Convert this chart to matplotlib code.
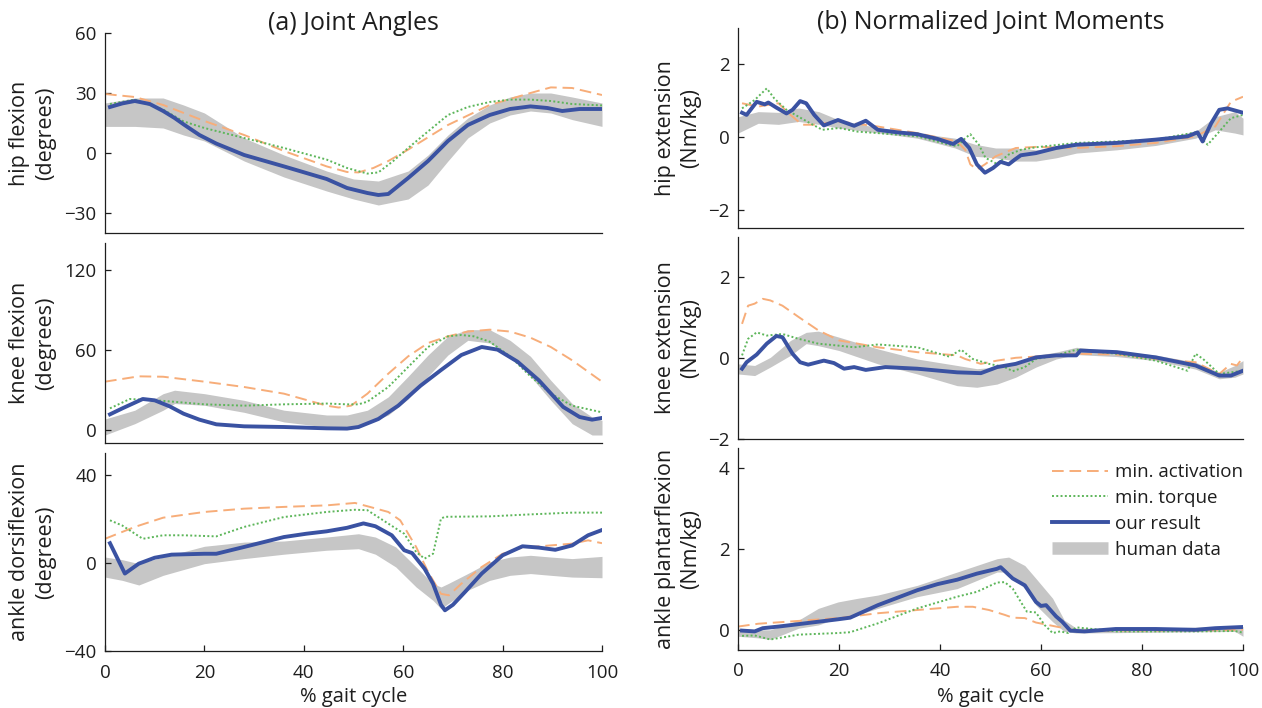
import matplotlib
matplotlib.use("Agg")
import matplotlib.pyplot as plt
from matplotlib.lines import Line2D

plt.rcParams['font.family'] = ['Open Sans', 'DejaVu Sans']

# ---------------- data ----------------
# (a) hip flexion angle (degrees)
ha_band_x = [0, 6, 11.7, 15.8, 20, 28, 36, 44.6, 50, 55, 61, 65, 69, 73, 77.4, 81.5, 85.6, 89.7, 94, 100]
ha_band_hi = [25, 27.5, 27.5, 24, 20, 7.5, -1, -9, -13, -14, -9, -1, 9, 17.5, 24, 28, 30, 30, 28, 25]
ha_band_lo = [13.3, 13.3, 12.5, 9, 6, -4, -12, -19, -23, -26, -23, -16, -4, 7.5, 15, 19, 21, 20, 16.7, 13.3]
ha_blue_x = [1, 3.5, 6, 9, 11.7, 14, 16, 19, 22.4, 28, 36, 44.6, 48.7, 52.8, 55, 57, 58.5, 61, 65, 69, 73, 77.4, 81.5, 85.6, 89, 92, 95.5, 100]
ha_blue = [23, 24.8, 26, 24.5, 21, 17.5, 14, 9, 4.7, -1, -6.7, -13, -17.5, -20, -21, -20.5, -17.5, -12.5, -4, 6, 14, 19, 22, 23.3, 22.5, 21, 22, 22]
ha_orange_x = [0, 6, 11.7, 20, 28, 36, 44.6, 48.7, 51, 54, 57, 61, 69, 77.4, 85.6, 89.7, 94, 100]
ha_orange = [29.5, 28, 24, 16, 9, 1, -6.7, -9.5, -9.7, -7.5, -4, 1.7, 14, 24, 30, 32.8, 32.5, 29]
ha_green_x = [1, 6, 11.7, 15.8, 20, 28, 36, 44.6, 48.7, 52.8, 55, 58, 61, 65, 69, 73, 77.4, 81.5, 85.6, 89.7, 94, 100]
ha_green = [24.5, 26.7, 21.7, 15.8, 12.5, 7.5, 2.5, -3.3, -7.5, -10.3, -9.7, -4, 2.5, 10.8, 19, 23, 25.5, 26.7, 26.7, 26, 24.5, 23.8]

# (a) knee flexion angle (degrees)
ka_band_x = [0, 6, 11.7, 14, 20, 28, 36, 44.6, 48.7, 52.8, 57, 61, 65, 69, 73, 77.4, 81.5, 85.6, 89.7, 94, 98, 100]
ka_band_hi = [8, 14.6, 27, 29.6, 27, 22, 14.6, 11, 11, 14.6, 24.6, 40, 56, 70, 75, 75, 67, 55, 37, 19.6, 9.5, 7]
ka_band_lo = [-4, 4.5, 14.6, 19.6, 18.3, 13, 5.8, 2, 2, 4.5, 11, 23, 40, 56, 67, 65, 56, 40, 22, 4.5, -4, -4]
ka_blue_x = [1, 3.5, 7.6, 10, 13, 15.8, 19, 22.4, 28, 36, 44.6, 48.7, 51, 55, 59, 63.5, 67.6, 71.7, 75.8, 79, 83, 87.3, 92.2, 95.5, 98, 100]
ka_blue = [11.5, 16, 23, 22, 17.5, 12, 7.5, 4, 2.5, 2, 1, 0.8, 2, 8, 18, 33, 44.7, 56, 62, 60, 51, 37, 17, 9.5, 7.5, 8.8]
ka_orange_x = [0, 6.8, 11.7, 20, 28, 36, 44.6, 47, 49.5, 52.8, 57, 61, 65, 69, 73, 77.4, 81.5, 85.6, 89.7, 94, 100]
ka_orange = [36, 40, 39.7, 36, 32, 27, 18, 16.6, 18, 27, 42, 55, 65, 70, 73.6, 75, 73.6, 69, 62, 52, 36]
ka_green_x = [1, 5, 11.7, 20, 28, 36, 44.6, 48.7, 51, 52.8, 57, 61, 65, 69, 71.7, 74.2, 77.4, 81.5, 85.6, 89.7, 94, 100]
ka_green = [16, 23, 21.6, 19, 18, 19, 19.6, 19, 19, 21, 32, 47, 62, 70, 71, 70, 66, 55, 40, 27, 18, 13]

# (a) ankle dorsiflexion angle (degrees)
aa_band_x = [0, 3.5, 6.8, 11.7, 20, 28, 36, 44.6, 51, 54.4, 58.5, 62.6, 66, 67.6, 69, 73, 77.4, 81.5, 85.6, 89.7, 94, 100]
aa_band_hi = [2.7, 1.5, -0.3, 2.7, 7.6, 9.5, 10, 11.8, 13.3, 11.8, 7.3, -1.8, -9.4, -10.9, -9.4, -4.8, 0.5, 2.7, 3.5, 2.7, 2, 3]
aa_band_lo = [-6.4, -7.9, -10, -5.6, -0.3, 2, 4, 5.8, 6.5, 4, -1.8, -10.9, -17, -20.8, -18.5, -12.4, -7.9, -5.6, -4.8, -5.6, -6.4, -6.7]
aa_blue_x = [1, 4, 6.8, 10, 13.4, 20, 22.4, 28, 36, 40.5, 44.6, 48.7, 52, 54.4, 57.7, 60.2, 61.8, 64.3, 66, 67.6, 68.4, 70, 72.5, 75.8, 80, 84, 87.3, 90.6, 94, 97.2, 100]
aa_blue = [9, -4.8, -0.3, 2.4, 3.8, 4.2, 4.2, 7.3, 11.8, 13.3, 14.4, 16, 18, 16.7, 12.6, 5.8, 4.5, -2.6, -9.4, -19, -21.5, -19, -13, -4.8, 3.5, 7.6, 7, 6, 8, 12.6, 15]
aa_orange_x = [0, 6, 11.7, 20, 28, 36, 44.6, 50.3, 52.8, 57, 59.4, 62.6, 65, 67.6, 69.2, 71.7, 75.8, 80, 84, 89.7, 94, 97.2, 100]
aa_orange = [11, 16.4, 20.6, 23.2, 24.7, 25.5, 26.2, 27.3, 25.8, 23.2, 19.4, 7.3, -4, -14, -14.7, -9.4, -1.8, 4.2, 7, 8, 8.8, 10.3, 9]
aa_green_x = [1, 3.5, 7.6, 11.7, 15.8, 22.4, 28, 36, 44.6, 50.3, 52.8, 57, 60.2, 62.6, 64.3, 66, 67.6, 68.4, 77.4, 85.6, 94, 100]
aa_green = [19.4, 17, 11, 12.6, 12.6, 12.1, 16.4, 20.9, 23.2, 24.2, 24, 17.9, 13.3, 5, 2, 4.2, 20.2, 21, 21.2, 22.1, 22.9, 22.9]

# (b) hip extension moment (Nm/kg)
hm_band_x = [0, 4, 8, 12, 16, 20, 28, 35.5, 43, 47, 51, 55, 59, 63, 67, 75, 82.7, 90.6, 94.5, 98.4, 100]
hm_band_hi = [0.56, 0.7, 0.68, 0.8, 0.7, 0.47, 0.25, 0.11, -0.03, -0.2, -0.3, -0.3, -0.35, -0.3, -0.21, -0.16, -0.05, 0.15, 0.56, 0.7, 0.52]
hm_band_lo = [0.11, 0.38, 0.35, 0.43, 0.35, 0.25, 0.11, -0.03, -0.3, -0.53, -0.57, -0.66, -0.66, -0.57, -0.44, -0.35, -0.23, -0.03, 0.2, 0.11, 0.06]
hm_blue_x = [0.8, 1.7, 3.7, 5.3, 6, 7.6, 9.6, 10.8, 12.3, 13.5, 15.1, 17, 19.8, 23, 25.3, 27.7, 31.6, 35.5, 39.5, 42.6, 44.2, 45.8, 47.3, 48.9, 50.5, 52, 53.6, 54.8, 56, 59, 63, 67, 75, 82.7, 89, 91, 92, 93.7, 95.3, 96.9, 100]
hm_blue = [0.67, 0.61, 0.97, 0.9, 0.95, 0.81, 0.65, 0.75, 0.99, 0.93, 0.61, 0.32, 0.47, 0.31, 0.45, 0.2, 0.13, 0.08, -0.05, -0.19, -0.05, -0.3, -0.75, -0.98, -0.85, -0.68, -0.75, -0.62, -0.5, -0.44, -0.3, -0.21, -0.16, -0.07, 0.02, 0.13, -0.12, 0.38, 0.75, 0.79, 0.67]
hm_orange_x = [0.8, 4, 8, 10.4, 12.7, 15, 20, 27.7, 35.5, 43.4, 45, 46, 47.3, 48.9, 51, 55, 59, 67, 75, 82.7, 90.6, 94.5, 97.6, 100]
hm_orange = [0.93, 0.84, 0.93, 0.61, 0.34, 0.34, 0.43, 0.29, 0.11, -0.12, -0.35, -0.75, -0.89, -0.75, -0.53, -0.3, -0.27, -0.3, -0.25, -0.16, 0.02, 0.29, 0.97, 1.11]
hm_green_x = [0.8, 3.3, 5.7, 7.2, 9.6, 12, 14.3, 16.7, 20, 23.7, 27.7, 35.5, 41.8, 43.4, 45, 46, 47.7, 49, 51.3, 53.6, 56, 59, 67, 75, 82.7, 90.6, 93, 95.3, 97.6, 100]
hm_green = [0.79, 1.02, 1.34, 1.06, 0.75, 0.56, 0.38, 0.2, 0.25, 0.15, 0.11, 0.02, -0.21, -0.25, -0.03, 0.08, -0.21, -0.57, -0.74, -0.48, -0.35, -0.28, -0.16, -0.12, -0.07, 0.13, -0.21, 0.15, 0.52, 0.61]

# (b) knee extension moment (Nm/kg)
km_band_x = [0, 3.3, 6.4, 10.4, 13.5, 15.9, 20, 27.7, 35.5, 43.4, 47.3, 51.3, 55, 59, 63, 67, 75, 82.7, 90.6, 95.3, 98.4, 100]
km_band_hi = [-0.14, -0.18, 0.02, 0.44, 0.64, 0.67, 0.52, 0.23, -0.02, -0.18, -0.26, -0.22, -0.1, 0.07, 0.15, 0.27, 0.17, 0.08, -0.1, -0.35, -0.18, -0.06]
km_band_lo = [-0.39, -0.43, -0.22, 0.07, 0.36, 0.31, 0.19, -0.14, -0.39, -0.68, -0.72, -0.64, -0.47, -0.22, -0.02, 0.09, 0.04, -0.06, -0.27, -0.51, -0.47, -0.39]
km_blue_x = [0.8, 1.7, 3.7, 5.7, 7.6, 8.8, 10.8, 12.3, 13.9, 17, 19, 21, 23, 25.3, 29.2, 35.5, 43.4, 48.1, 51.3, 55, 59, 63, 67, 67.8, 75, 82.7, 90.6, 95.3, 97.6, 100]
km_blue = [-0.26, -0.1, 0.09, 0.36, 0.55, 0.52, 0.11, -0.1, -0.16, -0.06, -0.12, -0.26, -0.22, -0.29, -0.22, -0.26, -0.35, -0.37, -0.22, -0.14, 0.02, 0.07, 0.07, 0.19, 0.15, 0.02, -0.18, -0.43, -0.43, -0.31]
km_orange_x = [0.8, 2, 3.3, 4.9, 6.4, 8.8, 12, 15.9, 20, 23.7, 27.7, 35.5, 43.4, 45, 48.1, 51.3, 55, 59, 67, 75, 82.7, 90.6, 95.3, 97.6, 98.8, 100]
km_orange = [0.85, 1.3, 1.35, 1.47, 1.43, 1.3, 1.02, 0.69, 0.44, 0.36, 0.27, 0.15, 0.07, -0.02, -0.14, -0.06, 0.01, 0.04, 0.11, 0.09, -0.02, -0.1, -0.39, -0.14, -0.18, 0.02]
km_green_x = [0.8, 2, 3.7, 5.7, 8.8, 12, 15.9, 20, 23, 27.7, 35.5, 41.8, 44.2, 46.5, 49.7, 52.8, 54.4, 56.8, 59, 63, 67, 75, 82.7, 89, 90.6, 92.1, 95.3, 100]
km_green = [0.07, 0.48, 0.64, 0.56, 0.6, 0.48, 0.36, 0.31, 0.27, 0.34, 0.27, 0.04, 0.21, -0.02, -0.14, -0.22, -0.32, -0.22, -0.02, 0.07, 0.21, 0.11, -0.06, -0.31, 0.11, -0.02, -0.39, -0.31]

# (b) ankle plantarflexion moment (Nm/kg)
am_band_x = [0, 4, 6.4, 12, 15.9, 19.8, 23.7, 27.7, 35.5, 43.4, 51.3, 53.6, 56.8, 59, 62.3, 64.6, 67, 75, 90, 98.4, 100]
am_band_hi = [0.04, 0, 0, 0.24, 0.53, 0.69, 0.78, 0.86, 1.1, 1.43, 1.76, 1.8, 1.59, 1.27, 0.78, 0.24, 0.04, 0.04, 0.06, 0.1, 0.08]
am_band_lo = [-0.16, -0.2, -0.24, 0.04, 0.12, 0.29, 0.37, 0.53, 0.82, 1.02, 1.43, 1.43, 1.02, 0.61, 0.2, -0.04, -0.08, -0.07, -0.05, -0.04, -0.16]
am_blue_x = [0.8, 3.3, 4.9, 8, 12, 15.9, 19.8, 22.2, 27.7, 35.5, 39.5, 43.4, 47.3, 51.3, 52, 54.4, 56.8, 59, 60, 61, 63, 64.2, 65.8, 68.6, 74.8, 82.7, 90.6, 94.5, 100]
am_blue = [-0.02, -0.04, 0.04, 0.08, 0.14, 0.2, 0.26, 0.3, 0.61, 0.98, 1.13, 1.24, 1.39, 1.51, 1.55, 1.27, 1.1, 0.69, 0.59, 0.61, 0.33, 0.2, -0.02, -0.04, 0.02, 0.02, 0, 0.04, 0.07]
am_orange_x = [0, 4, 12, 19.8, 27.7, 35.5, 43.4, 46.5, 49.7, 52.8, 54.4, 56.8, 59, 63, 67, 75, 90.6, 100]
am_orange = [0.08, 0.15, 0.22, 0.29, 0.41, 0.49, 0.57, 0.57, 0.49, 0.37, 0.3, 0.29, 0.18, 0.08, -0.02, -0.02, -0.02, 0]
am_green_x = [0.8, 3.3, 6.4, 8.8, 12, 19.8, 22.2, 27.7, 35.5, 43.4, 47.3, 51.3, 52.8, 54.4, 56, 57.2, 59, 60.7, 62.3, 63.8, 65.4, 67, 75, 90.6, 98.4, 100]
am_green = [-0.15, -0.14, -0.24, -0.19, -0.12, -0.08, -0.06, 0.16, 0.53, 0.82, 0.94, 1.17, 1.18, 1.02, 0.69, 0.45, 0.43, 0.12, -0.08, -0.04, -0.08, 0.06, -0.04, -0.04, -0.03, -0.07]

titles = ["(a) Joint Angles", "(b) Normalized Joint Moments"]
left_labels = ["hip flexion\n(degrees)", "knee flexion\n(degrees)", "ankle dorsiflexion\n(degrees)"]
right_labels = ["hip extension\n(Nm/kg)", "knee extension\n(Nm/kg)", "ankle plantarflexion\n(Nm/kg)"]
legend_labels = ["min. activation", "min. torque", "our result", "human data"]
x_ticks = [0, 20, 40, 60, 80, 100]
x_label = "% gait cycle"

# ---------------- style ----------------
C_BAND = "#c6c6c6"
C_ORANGE = "#f7ad79"
C_GREEN = "#5db65a"
C_BLUE = "#3a52a2"
C_TXT = "#1e1e1e"
FS = 13.5
DASH_O = (6, 3)
DASH_G = (1.0, 1.2)

fig = plt.figure(figsize=(12.62, 7.08), dpi=100)

W_L, X_L = 497 / 1262, 105 / 1262
W_R, X_R = 505 / 1262, 738 / 1262

def px_rect(x0, w, top, bottom):
    return [x0, 1 - bottom / 708, w, (bottom - top) / 708]

panels = [
    (px_rect(X_L, W_L, 33, 233), (ha_band_x, ha_band_lo, ha_band_hi, ha_orange_x, ha_orange, ha_green_x, ha_green, ha_blue_x, ha_blue), (-40, 60), [-30, 0, 30, 60], left_labels[0], -0.146, False),
    (px_rect(X_L, W_L, 243, 443), (ka_band_x, ka_band_lo, ka_band_hi, ka_orange_x, ka_orange, ka_green_x, ka_green, ka_blue_x, ka_blue), (-10, 140), [0, 60, 120], left_labels[1], -0.146, False),
    (px_rect(X_L, W_L, 453, 651), (aa_band_x, aa_band_lo, aa_band_hi, aa_orange_x, aa_orange, aa_green_x, aa_green, aa_blue_x, aa_blue), (-40, 50), [-40, 0, 40], left_labels[2], -0.146, True),
    (px_rect(X_R, W_R, 28, 228), (hm_band_x, hm_band_lo, hm_band_hi, hm_orange_x, hm_orange, hm_green_x, hm_green, hm_blue_x, hm_blue), (-2.5, 3), [-2, 0, 2], right_labels[0], -0.119, False),
    (px_rect(X_R, W_R, 237, 439), (km_band_x, km_band_lo, km_band_hi, km_orange_x, km_orange, km_green_x, km_green, km_blue_x, km_blue), (-2, 3), [-2, 0, 2], right_labels[1], -0.119, False),
    (px_rect(X_R, W_R, 448, 650), (am_band_x, am_band_lo, am_band_hi, am_orange_x, am_orange, am_green_x, am_green, am_blue_x, am_blue), (-0.5, 4.5), [0, 2, 4], right_labels[2], -0.119, True),
]

axes = []
for rect, d, ylim, yt, lab, lx, show_x in panels:
    ax = fig.add_axes(rect)
    bx, blo, bhi, ox, oy, gx, gy, ux, uy = d
    ax.fill_between(bx, blo, bhi, color=C_BAND, lw=0, zorder=1)
    ax.plot(ox, oy, color=C_ORANGE, lw=1.4, dashes=DASH_O, zorder=2)
    ax.plot(gx, gy, color=C_GREEN, lw=1.4, dashes=DASH_G, zorder=3)
    ax.plot(ux, uy, color=C_BLUE, lw=2.8, solid_joinstyle='round', zorder=4)
    ax.set_xlim(0, 100)
    ax.set_ylim(*ylim)
    ax.set_yticks(yt)
    for s in ['top', 'right']:
        ax.spines[s].set_visible(False)
    for s in ['left', 'bottom']:
        ax.spines[s].set_color(C_TXT)
        ax.spines[s].set_linewidth(0.9)
    ax.tick_params(axis='both', direction='in', length=4, width=0.9, color=C_TXT,
                   labelsize=FS, labelcolor=C_TXT)
    ax.tick_params(axis='y', pad=6)
    if show_x:
        ax.set_xticks(x_ticks)
        ax.tick_params(axis='x', pad=9)
        ax.text(0.5, -0.232, x_label, transform=ax.transAxes, ha='center', va='center',
                fontsize=14.5, color=C_TXT)
    else:
        ax.set_xticks([])
    ax.text(lx, 0.5, lab, transform=ax.transAxes, rotation=90, ha='center', va='center',
            multialignment='center', linespacing=1.3, fontsize=15.5, color=C_TXT)
    axes.append(ax)

fig.text(X_L + W_L / 2, 1 - 23 / 708, titles[0], ha='center', va='center', fontsize=18, color=C_TXT)
fig.text(X_R + W_R / 2, 1 - 22 / 708, titles[1], ha='center', va='center', fontsize=18, color=C_TXT)

handles = [
    Line2D([], [], color=C_ORANGE, lw=1.4, dashes=DASH_O),
    Line2D([], [], color=C_GREEN, lw=1.4, dashes=DASH_G),
    Line2D([], [], color=C_BLUE, lw=2.8),
    Line2D([], [], color=C_BAND, lw=9, solid_capstyle='butt'),
]
axes[5].legend(handles, legend_labels, loc='upper right', bbox_to_anchor=(1.0, 0.925),
               frameon=False, fontsize=FS, handlelength=3.0, handletextpad=0.35,
               labelspacing=0.42, borderpad=0, borderaxespad=0, labelcolor=C_TXT)

fig.savefig("out.png", dpi=100)
